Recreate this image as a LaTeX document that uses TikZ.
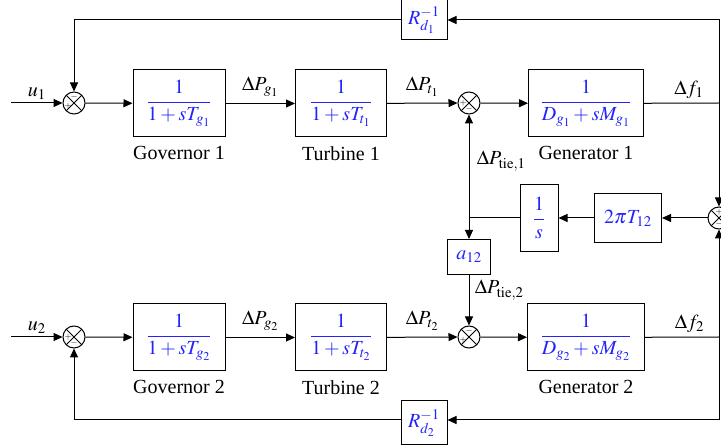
\documentclass[tikz,border=0pt]{standalone}
\usepackage{amsmath}
\usepackage{mathptmx}
\usepackage{fontspec}
\setmainfont{Liberation Serif}
\usepackage{tikz}
\usetikzlibrary{positioning,calc,arrows.meta}
\definecolor{gainblue}{RGB}{35,35,250}

\tikzset{
  blk/.style={draw, line width=1pt, text=gainblue, inner sep=0pt},
  sumnode/.style={circle, draw, line width=1pt, fill=white, minimum size=22pt, inner sep=0pt,
    path picture={\draw[line width=0.8pt] (path picture bounding box.north west) -- (path picture bounding box.south east)
      (path picture bounding box.north east) -- (path picture bounding box.south west);}},
  sgn/.style={font=\fontsize{9}{9}\selectfont, inner sep=0pt},
}

\begin{document}
\begin{tikzpicture}[x=1pt, y=-1pt, line width=1pt, >={Triangle[length=9pt,width=8pt]},
    font=\fontsize{20}{24}\selectfont]
  \useasboundingbox (0,0) rectangle (721,446);

  % area 1
  \node[sumnode] (s1) at (74,103) {};
  \node[blk, minimum width=92pt, minimum height=67pt] (gov1) at (179,103.5) {$\dfrac{1}{1+sT_{g_1}}$};
  \node[blk, minimum width=91pt, minimum height=67pt] (tur1) at (341,103.5) {$\dfrac{1}{1+sT_{t_1}}$};
  \node[sumnode] (s2) at (469,103) {};
  \node[blk, minimum width=115pt, minimum height=67pt] (gen1) at (586,103.5) {$\dfrac{1}{D_{g_1}+sM_{g_1}}$};
  \node[blk, minimum width=46pt, minimum height=40pt] (rd1) at (424,20) {$R_{d_1}^{-1}$};
  \node[below=5pt of gov1] {Governor 1};
  \node[below=5pt of tur1] {Turbine 1};
  \node[below=5pt of gen1] {Generator 1};

  % tie line
  \node[sumnode] (sr) at (719,218) {};
  \node[blk, minimum width=67pt, minimum height=49pt] (tpi) at (628,218) {$2\pi T_{12}$};
  \node[blk, minimum width=38pt, minimum height=67pt] (inv) at (539,218) {$\dfrac{1}{s}$};
  \node[blk, minimum width=43pt, minimum height=35pt] (a12) at (469,257) {$a_{12}$};

  % area 2
  \node[sumnode] (s3) at (74,337) {};
  \node[blk, minimum width=92pt, minimum height=67pt] (gov2) at (179,337.5) {$\dfrac{1}{1+sT_{g_2}}$};
  \node[blk, minimum width=91pt, minimum height=67pt] (tur2) at (341,337.5) {$\dfrac{1}{1+sT_{t_2}}$};
  \node[sumnode] (s4) at (469,337) {};
  \node[blk, minimum width=117pt, minimum height=67pt] (gen2) at (586,337.5) {$\dfrac{1}{D_{g_2}+sM_{g_2}}$};
  \node[blk, minimum width=46pt, minimum height=44pt] (rd2) at (424,423) {$R_{d_2}^{-1}$};
  \node[below=5pt of gov2] {Governor 2};
  \node[below=5pt of tur2] {Turbine 2};
  \node[below=5pt of gen2] {Generator 2};

  % signs
  \node[sgn] at ($(s1)+(-6,3)$) {$+$};  \node[sgn] at ($(s1)+(0,-6)$) {$-$};
  \node[sgn] at ($(s2)+(-6,0)$) {$+$};  \node[sgn] at ($(s2)+(0,6)$) {$-$};
  \node[sgn] at ($(s3)+(-6,0)$) {$+$};  \node[sgn] at ($(s3)+(0,6)$) {$-$};
  \node[sgn] at ($(s4)+(-6,3)$) {$+$};  \node[sgn] at ($(s4)+(0,-6)$) {$-$};
  \node[sgn] at ($(sr)+(0,-6)$) {$+$};  \node[sgn] at ($(sr)+(0,6)$) {$-$};

  \coordinate (u1) at (11,103);
  \coordinate (u2) at (11,337);
  \coordinate (f1) at (719,103);
  \coordinate (f2) at (719,337);

  % connectors area 1
  \draw[->] (u1) -- node[above] {$u_1$} (s1);
  \draw[->] (s1) -- (gov1);
  \draw[->] (gov1) -- node[above=3pt] {$\Delta P_{g_1}$} (tur1);
  \draw[->] (tur1) -- node[above=3pt] {$\Delta P_{t_1}$} (s2);
  \draw[->] (s2) -- (gen1);
  \draw (gen1) -- node[above=1pt, pos=0.6] {$\Delta f_1$} (f1);
  \draw[->] (f1) -- (sr);
  \draw[->] (f1) |- (rd1);
  \draw[->] (rd1) -| (s1);

  % connectors tie line
  \draw[->] (sr) -- (tpi);
  \draw[->] (tpi) -- (inv);
  \draw (inv) -- (inv -| s2) coordinate (tj);
  \draw[->] (tj) -- node[right=4pt, pos=0.55] {$\Delta P_{\mathrm{tie},1}$} (s2);
  \draw[->] (tj) -- (a12);
  \draw[->] (a12) -- node[right=2pt, pos=0.3] {$\Delta P_{\mathrm{tie},2}$} (s4);

  % connectors area 2
  \draw[->] (u2) -- node[above] {$u_2$} (s3);
  \draw[->] (s3) -- (gov2);
  \draw[->] (gov2) -- node[above=3pt] {$\Delta P_{g_2}$} (tur2);
  \draw[->] (tur2) -- node[above=3pt] {$\Delta P_{t_2}$} (s4);
  \draw[->] (s4) -- (gen2);
  \draw (gen2) -- node[above=1pt, pos=0.6] {$\Delta f_2$} (f2);
  \draw[->] (f2) -- (sr);
  \draw[->] (f2) |- (rd2.east |- 0,420);
  \draw[->] (rd2.west |- 0,420) -| (s3);
\end{tikzpicture}
\end{document}
